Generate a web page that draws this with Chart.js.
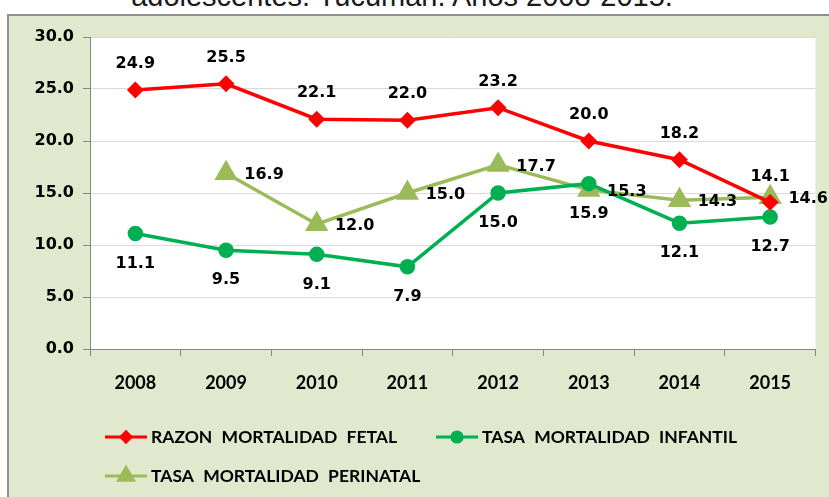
<!DOCTYPE html>
<html lang="es">
<head>
<meta charset="UTF-8">
<title>Mortalidad fetal, infantil y perinatal</title>
<style>
  body { margin: 0; background: #fff; overflow: hidden; }
  #wrap { position: relative; width: 829px; height: 497px; }
  #titulo {
    position: absolute; left: 0; width: 804px; top: -18px;
    text-align: center; font: 29px "Liberation Sans", Arial, sans-serif;
    line-height: 29px; color: #1a1a1a; white-space: nowrap;
  }
  canvas { position: absolute; left: 0; top: 0; }
</style>
</head>
<body>
<div id="wrap">
  <div id="titulo">adolescentes. Tucumán. Años 2008-2015.</div>
  <canvas id="grafico" width="829" height="497"></canvas>
</div>

<script src="https://cdn.jsdelivr.net/npm/chart.js"></script>
<script>
  // datos
  var anios = ['2008', '2009', '2010', '2011', '2012', '2013', '2014', '2015'];
  var razonFetal = [24.9, 25.5, 22.1, 22.0, 23.2, 20.0, 18.2, 14.1];
  var tasaInfantil = [11.1, 9.5, 9.1, 7.9, 15.0, 15.9, 12.1, 12.7];
  var tasaPerinatal = [null, 16.9, 12.0, 15.0, 17.7, 15.3, 14.3, 14.6];
  var marcasY = [0, 5, 10, 15, 20, 25, 30];

  var VERDE_FONDO = '#E0E8CD';
  var fuenteNum = 'bold 16px "DejaVu Sans", Verdana, sans-serif';
  var fuenteTexto = '"Lato", "Liberation Sans", sans-serif';

  // fondo verde del grafico y area blanca
  var fondo = {
    id: 'fondo',
    beforeDraw: function (chart) {
      var ctx = chart.ctx, a = chart.chartArea;
      ctx.save();
      ctx.fillStyle = VERDE_FONDO;
      ctx.fillRect(8, 14, 840, 500);
      ctx.strokeStyle = '#8f8f8f';
      ctx.lineWidth = 2;
      ctx.strokeRect(8, 15, 840, 500);
      ctx.fillStyle = '#ffffff';
      ctx.fillRect(a.left, a.top, a.right - a.left, a.bottom - a.top);
      ctx.restore();
    }
  };

  // etiquetas de valores
  var desplaz = [[0, -26], [0, 30], [38, 2]];
  var etiquetas = {
    id: 'etiquetas',
    afterDatasetsDraw: function (chart) {
      var ctx = chart.ctx;
      ctx.save();
      ctx.font = fuenteNum;
      ctx.fillStyle = '#000';
      ctx.textAlign = 'center';
      ctx.textBaseline = 'middle';
      chart.data.datasets.forEach(function (ds, i) {
        var meta = chart.getDatasetMeta(i);
        meta.data.forEach(function (p, j) {
          if (ds.data[j] == null) return;
          ctx.fillText(ds.data[j].toFixed(1), p.x + desplaz[i][0], p.y + desplaz[i][1]);
        });
      });
      ctx.restore();
    }
  };

  // leyenda dibujada a mano (linea con marcador)
  var posLeyenda = [[105, 437], [436, 437], [105, 476]];
  var leyenda = {
    id: 'leyenda',
    afterDraw: function (chart) {
      var ctx = chart.ctx;
      ctx.save();
      chart.data.datasets.forEach(function (ds, i) {
        var x = posLeyenda[i][0], y = posLeyenda[i][1];
        ctx.strokeStyle = ds.borderColor;
        ctx.fillStyle = ds.borderColor;
        ctx.lineWidth = 3;
        ctx.beginPath();
        ctx.moveTo(x, y);
        ctx.lineTo(x + 42, y);
        ctx.stroke();
        Chart.helpers.drawPoint(ctx, {
          pointStyle: ds.pointStyle,
          radius: ds.pointRadius * 0.85,
          borderWidth: 1
        }, x + 21, y);
        ctx.fillStyle = '#000';
        ctx.font = 'bold 17.5px ' + fuenteTexto;
        ctx.wordSpacing = '5px';
        ctx.textBaseline = 'middle';
        ctx.textAlign = 'left';
        ctx.fillText(ds.label, x + 46, y);
        ctx.wordSpacing = '0px';
      });
      ctx.restore();
    }
  };

  function serie(nombre, datos, color, estilo, radio) {
    return {
      label: nombre,
      data: datos,
      borderColor: color,
      backgroundColor: color,
      pointBackgroundColor: color,
      pointBorderColor: color,
      borderWidth: 3.5,
      pointStyle: estilo,
      pointRadius: radio,
      pointHoverRadius: radio,
      tension: 0,
      spanGaps: false
    };
  }

  var ctx = document.getElementById('grafico').getContext('2d');
  new Chart(ctx, {
    type: 'line',
    data: {
      labels: anios,
      datasets: [
        serie('RAZON MORTALIDAD FETAL', razonFetal, '#FF0000', 'rectRot', 6),
        serie('TASA MORTALIDAD INFANTIL', tasaInfantil, '#00B050', 'circle', 6),
        serie('TASA MORTALIDAD PERINATAL', tasaPerinatal, '#9BBB59', 'triangle', 10)
      ]
    },
    options: {
      responsive: false,
      animation: false,
      layout: { padding: { top: 37, right: 9, left: 0, bottom: 0 } },
      plugins: {
        legend: { display: false },
        title: { display: false },
        tooltip: { enabled: false }
      },
      scales: {
        x: {
          offset: true,
          grid: {
            offset: true,
            drawOnChartArea: false,
            drawTicks: true,
            tickLength: 7,
            tickColor: '#868686',
            color: '#868686'
          },
          border: { color: '#868686', width: 1 },
          ticks: {
            color: '#000',
            padding: 16,
            font: { family: fuenteTexto, size: 18, weight: 'bold' }
          },
          afterFit: function (s) { s.height = 148; }
        },
        y: {
          min: 0,
          max: 30,
          afterBuildTicks: function (s) {
            s.ticks = marcasY.map(function (v) { return { value: v }; });
          },
          grid: {
            color: '#D9D9D9',
            lineWidth: 1,
            tickLength: 7,
            tickColor: '#868686'
          },
          border: { color: '#868686', width: 1 },
          ticks: {
            color: '#000',
            padding: 9,
            font: { family: '"DejaVu Sans", Verdana, sans-serif', size: 16, weight: 'bold' },
            callback: function (v) { return Number(v).toFixed(1); }
          },
          afterFit: function (s) { s.width = 90; }
        }
      }
    },
    plugins: [fondo, etiquetas, leyenda]
  });
</script>
</body>
</html>
